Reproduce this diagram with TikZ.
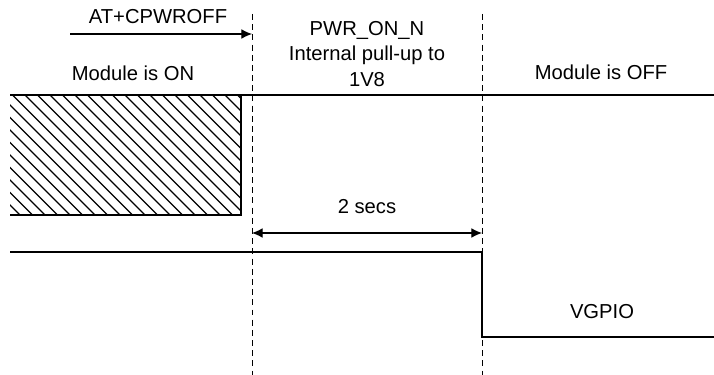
\documentclass[tikz,border=0pt]{standalone}
\usepackage{fontspec}
\setmainfont{Liberation Sans}
\usetikzlibrary{arrows.meta}
\begin{document}
\begin{tikzpicture}[x=0.02cm,y=-0.02cm,
  sig/.style={line width=1.1pt},
  marker/.style={line width=0.55pt, dash pattern=on 3.4pt off 2.4pt},
  hatch/.style={line width=0.65pt},
  txt/.style={font=\fontsize{11.5}{14.7}\selectfont, align=center, inner sep=0pt},
  tip/.style={-{Latex[length=6pt,width=5.5pt]}},
  twotip/.style={{Latex[length=6pt,width=5.5pt]}-{Latex[length=6pt,width=5.5pt]}}]
  \useasboundingbox (0,0) rectangle (714,375);

  % time markers
  \coordinate (m1top) at (252,14);
  \coordinate (m1bot) at (252,375);
  \coordinate (m2top) at (482,14);
  \coordinate (m2bot) at (482,375);
  \draw[marker] (m1top) -- (m1bot);
  \draw[marker] (m2top) -- (m2bot);

  % labels
  \node[txt] (cmd) at (158,17) {AT+CPWROFF};
  \node[txt] (on) at (133,73) {Module is ON};
  \node[txt] (pwr) at (367,54) {PWR\_ON\_N\\Internal pull-up to\\1V8};
  \node[txt] (off) at (601,72) {Module is OFF};
  \node[txt] (secs) at (367,207) {2 secs};
  \node[txt] (vgpio) at (602,312) {VGPIO};

  % command arrow
  \coordinate (cmdfrom) at (70,34);
  \coordinate (cmdto) at (252,34);
  \draw[sig, line width=0.6pt, tip] (cmdfrom) -- (cmdto);

  % delay arrow
  \coordinate (dlyfrom) at (252,233);
  \coordinate (dlyto) at (482,233);
  \draw[line width=0.6pt, twotip] (dlyfrom) -- (dlyto);

  % PWR_ON_N signal
  \begin{scope}
    \clip (10,95) rectangle (241,215);
    \foreach \i in {-125,-112.5,...,245}
      \draw[hatch] (\i,95) -- ++(125,125);
  \end{scope}
  \draw[sig] (10,95) -- (714,95);
  \draw[sig] (241,95) -- (241,215) -- (10,215);

  % VGPIO signal
  \draw[sig] (10,252) -- (482,252) -- (482,337) -- (714,337);
\end{tikzpicture}
\end{document}
